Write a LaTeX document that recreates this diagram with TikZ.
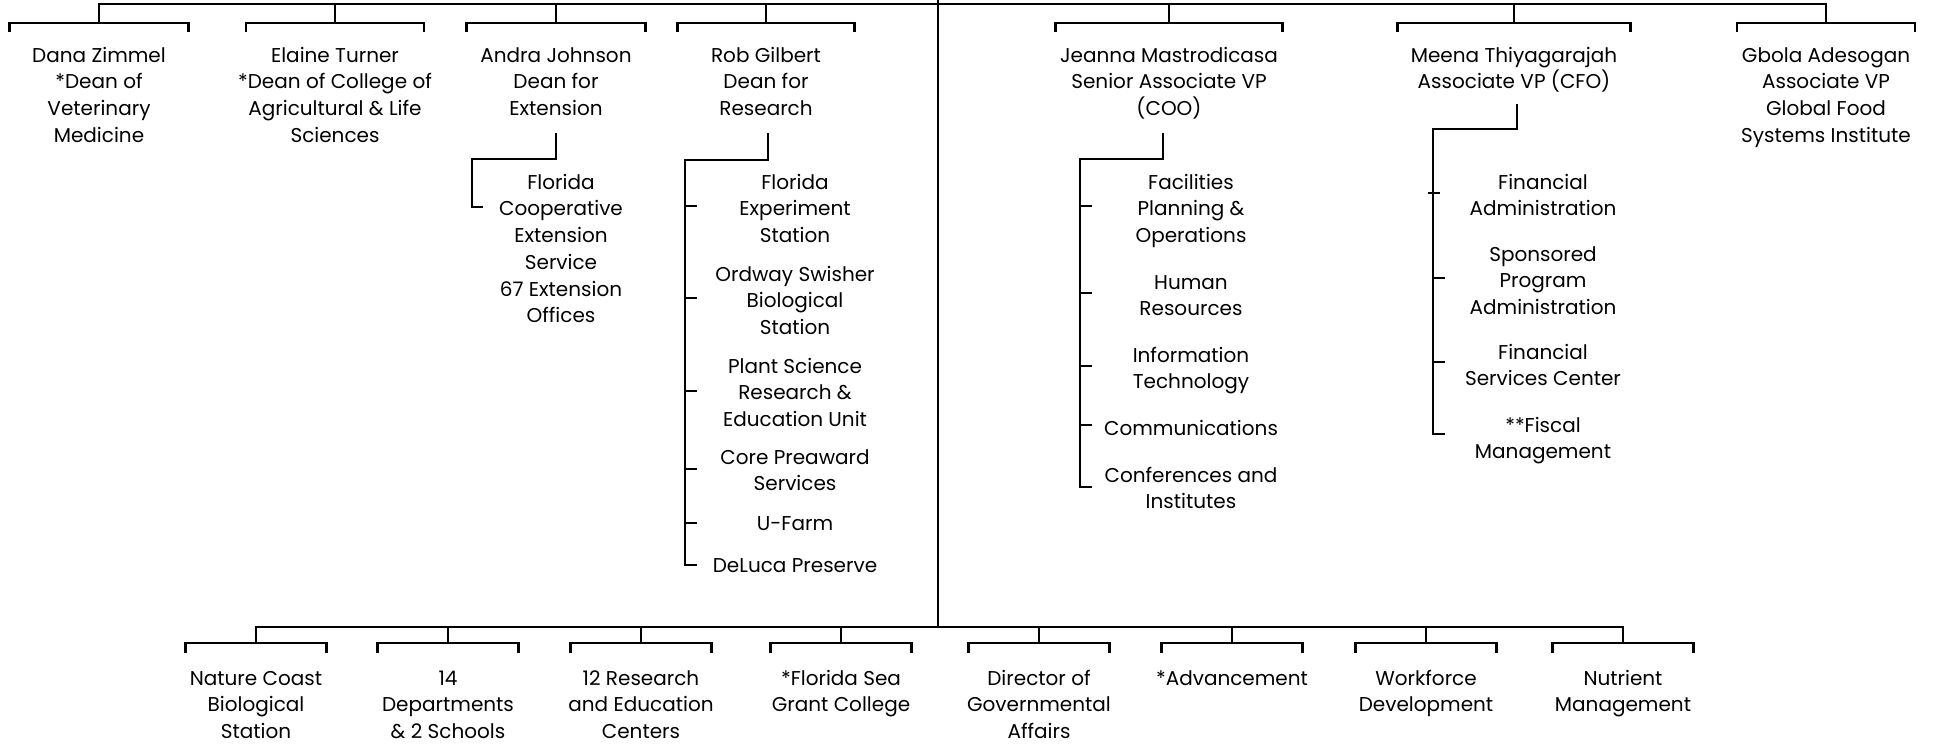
\documentclass[tikz,border=0pt]{standalone}
\usepackage{fontspec}
\setmainfont{Poppins}
\newcommand\tb{\rule{0pt}{16pt}}
\begin{document}
\begin{tikzpicture}[x=1pt,y=-1pt,
  ln/.style={line width=2.6pt, black},
  lbl/.style={font=\fontsize{20}{26.7}\selectfont, align=center, inner sep=0pt, anchor=north, text=black}]
\useasboundingbox (0,0) rectangle (1934,744);
% ---------- top level nodes
\node[lbl] (dana)   at (99,46)   {\tb Dana Zimmel\\{}*Dean of\\Veterinary\\Medicine};
\node[lbl] (elaine) at (335,46)  {\tb Elaine Turner\\{}*Dean of College of\\Agricultural \& Life\\Sciences};
\node[lbl] (andra)  at (556,46)  {\tb Andra Johnson\\Dean for\\Extension};
\node[lbl] (rob)    at (766,46)  {\tb Rob Gilbert\\Dean for\\Research};
\node[lbl] (jeanna) at (1169,46) {\tb Jeanna Mastrodicasa\\Senior Associate VP\\(COO)};
\node[lbl] (meena)  at (1514,46) {\tb Meena Thiyagarajah\\Associate VP (CFO)};
\node[lbl] (gbola)  at (1826,46) {\tb Gbola Adesogan\\Associate VP\\Global Food\\Systems Institute};
% ---------- sub nodes
\node[lbl] (fces) at (561,173) {\tb Florida\\Cooperative\\Extension\\Service\\67 Extension\\Offices};
\node[lbl] (fes)  at (795,173) {\tb Florida\\Experiment\\Station};
\node[lbl] (osbs) at (795,265) {\tb Ordway Swisher\\Biological\\Station};
\node[lbl] (psr)  at (795,357) {\tb Plant Science\\Research \&\\Education Unit};
\node[lbl] (cps)  at (795,448) {\tb Core Preaward\\Services};
\node[lbl] (ufarm) at (795,514) {\tb U-Farm};
\node[lbl] (delu) at (795,556) {\tb DeLuca Preserve};
\node[lbl] (fpo)  at (1191,173) {\tb Facilities\\Planning \&\\Operations};
\node[lbl] (hr)   at (1191,273) {\tb Human\\Resources};
\node[lbl] (it)   at (1191,346) {\tb Information\\Technology};
\node[lbl] (comm) at (1191,419) {\tb Communications};
\node[lbl] (conf) at (1191,466) {\tb Conferences and\\Institutes};
\node[lbl] (fa)   at (1543,173) {\tb Financial\\Administration};
\node[lbl] (spa)  at (1543,245) {\tb Sponsored\\Program\\Administration};
\node[lbl] (fsc)  at (1543,343) {\tb Financial\\Services Center};
\node[lbl] (fm)   at (1543,416) {\tb **Fiscal\\Management};
% ---------- bottom nodes
\node[lbl] (ncbs) at (256,669)  {\tb Nature Coast\\Biological\\Station};
\node[lbl] (dept) at (448,669)  {\tb 14\\Departments\\\& 2 Schools};
\node[lbl] (rec)  at (641,669)  {\tb 12 Research\\and Education\\Centers};
\node[lbl] (sea)  at (841,669)  {\tb *Florida Sea\\Grant College};
\node[lbl] (gov)  at (1039,669) {\tb Director of\\Governmental\\Affairs};
\node[lbl] (adv)  at (1232,669) {\tb *Advancement};
\node[lbl] (wfd)  at (1426,669) {\tb Workforce\\Development};
\node[lbl] (nut)  at (1623,669) {\tb Nutrient\\Management};
% ---------- connector coordinates
\coordinate (trunkT) at (938,0);
\coordinate (trunkB) at (938,627);
\coordinate (topL) at (99,4);
\coordinate (topR) at (1826,4);
\coordinate (botL) at (256,627);
\coordinate (botR) at (1623,627);
% main trunk and bars
\draw[ln] (trunkT) -- (trunkB);
\draw[ln] (99,23) -- (topL) -- (topR) -- (1826,23);
\draw[ln] (256,643) -- (botL) -- (botR) -- (1623,643);
% top brackets
\foreach \c/\h in {99/89.5, 335/89, 556/89.5, 766/88.5, 1169/113.5, 1514/116.5, 1826/89}{
  \draw[ln] (\c,4) -- (\c,23);
  \draw[ln] (\c-\h,32) -- (\c-\h,23) -- (\c+\h,23) -- (\c+\h,32);
}
% bottom brackets
\foreach \c in {256,448,641,841,1039,1232,1426,1623}{
  \draw[ln] (\c,627) -- (\c,643);
  \draw[ln] (\c-70.5,653) -- (\c-70.5,643) -- (\c+70.5,643) -- (\c+70.5,653);
}
% Andra
\coordinate (aS) at (556,133);
\draw[ln] (aS) -- (556,159) -- (472,159) -- (472,207) -- (483,207);
% Rob
\coordinate (rS) at (768,133);
\draw[ln] (rS) -- (768,160) -- (685,160) -- (685,565) -- (697,565);
\foreach \y in {206,298,391,469,523}{\draw[ln] (685,\y) -- (697,\y);}
% Jeanna
\coordinate (jS) at (1163,133);
\draw[ln] (jS) -- (1163,159) -- (1080,159) -- (1080,487) -- (1092,487);
\foreach \y in {206,293,366,425}{\draw[ln] (1080,\y) -- (1092,\y);}
% Meena
\coordinate (mS) at (1517,104);
\draw[ln] (mS) -- (1517,129) -- (1433,129) -- (1433,434) -- (1445,434);
\foreach \y in {278,362}{\draw[ln] (1433,\y) -- (1445,\y);}
\draw[ln] (1428,193) -- (1440,193);
\end{tikzpicture}
\end{document}
